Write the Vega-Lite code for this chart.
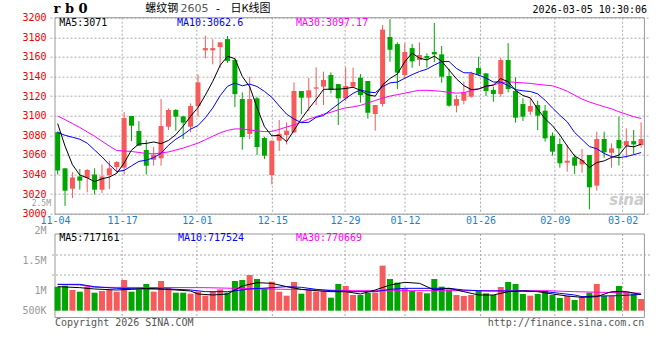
{
"$schema":"https://vega.github.io/schema/vega-lite/v6.json",
"width":600,"height":300,"autosize":"none",
"padding":{"left":50,"top":17.7,"right":10,"bottom":42.3},
"background":"#ffffff",
"config":{"view":{"stroke":null},"axisY":{"labelOverlap":false,"labelSeparation":-20}},
"datasets":{
"one":[{}],
"ticks":[{"i":8.73},{"i":18.85},{"i":29.07},{"i":38.92},{"i":47.04},{"i":57.26},{"i":67.32},{"i":76.5}],
"k":[
{"i":0,"o":3083,"h":3084,"l":3040,"c":3044,"v":1060000,"m5":3092,"m10":3083,"m30":3099.7},
{"i":1,"o":3046.3,"h":3046.5,"l":3008,"c":3023.5,"v":1104000,"m5":3069,"m10":3080,"m30":3096},
{"i":2,"o":3025.5,"h":3042.5,"l":3016,"c":3037,"v":913000,"m5":3050,"m10":3078,"m30":3092},
{"i":3,"o":3038,"h":3045.6,"l":3024.5,"c":3033.7,"v":839000,"m5":3039.5,"m10":3076,"m30":3088},
{"i":4,"o":3036.4,"h":3045.6,"l":3021.8,"c":3044.6,"v":1060000,"m5":3036.6,"m10":3072,"m30":3083.5},
{"i":5,"o":3040,"h":3046.3,"l":3019.7,"c":3024.5,"v":795000,"m5":3032.7,"m10":3065,"m30":3079},
{"i":6,"o":3024.5,"h":3050.3,"l":3021,"c":3038,"v":869000,"m5":3035.6,"m10":3058,"m30":3074},
{"i":7,"o":3039.4,"h":3054,"l":3025.2,"c":3046.3,"v":913000,"m5":3037.4,"m10":3050,"m30":3069},
{"i":8,"o":3047.6,"h":3053.7,"l":3042,"c":3052.7,"v":839000,"m5":3041.2,"m10":3043,"m30":3064.5},
{"i":9,"o":3047,"h":3103.7,"l":3040,"c":3097.6,"v":1354000,"m5":3051.8,"m10":3044.2,"m30":3064},
{"i":10,"o":3099.7,"h":3099.7,"l":3074,"c":3089.8,"v":839000,"m5":3064.9,"m10":3048.8,"m30":3063.5},
{"i":11,"o":3084.4,"h":3094.5,"l":3069,"c":3069.4,"v":942000,"m5":3071.2,"m10":3053.4,"m30":3062.5},
{"i":12,"o":3065,"h":3075,"l":3040,"c":3049,"v":1177000,"m5":3071.7,"m10":3054.6,"m30":3061.5},
{"i":13,"o":3055,"h":3068,"l":3049,"c":3060,"v":839000,"m5":3073.2,"m10":3057.2,"m30":3061},
{"i":14,"o":3056.5,"h":3117,"l":3049,"c":3089.5,"v":1310000,"m5":3071.5,"m10":3061.7,"m30":3062},
{"i":15,"o":3088.8,"h":3107.5,"l":3085.4,"c":3105.8,"v":1030000,"m5":3074.7,"m10":3069.8,"m30":3063},
{"i":16,"o":3105.8,"h":3106.8,"l":3084.7,"c":3099,"v":795000,"m5":3080.7,"m10":3076,"m30":3065},
{"i":17,"o":3099.3,"h":3100,"l":3076.2,"c":3092.9,"v":795000,"m5":3089.4,"m10":3080.6,"m30":3067},
{"i":18,"o":3088.8,"h":3112.6,"l":3083,"c":3109.9,"v":751000,"m5":3099.4,"m10":3086.3,"m30":3069.5},
{"i":19,"o":3109.9,"h":3142,"l":3099,"c":3134,"v":839000,"m5":3108.3,"m10":3089.9,"m30":3072},
{"i":20,"o":3166.7,"h":3181.6,"l":3158.5,"c":3169,"v":663000,"m5":3121,"m10":3097.9,"m30":3075.5},
{"i":21,"o":3166.7,"h":3178,"l":3152.4,"c":3169,"v":839000,"m5":3135,"m10":3107.9,"m30":3079},
{"i":22,"o":3170,"h":3175,"l":3149,"c":3174.8,"v":942000,"m5":3151.3,"m10":3120.4,"m30":3082.5},
{"i":23,"o":3178.2,"h":3181.3,"l":3154,"c":3156,"v":795000,"m5":3160.6,"m10":3130,"m30":3085},
{"i":24,"o":3156.8,"h":3158.5,"l":3108.8,"c":3122,"v":1310000,"m5":3158.2,"m10":3133.3,"m30":3086.5},
{"i":25,"o":3117,"h":3123.8,"l":3065.3,"c":3078.2,"v":1354000,"m5":3140,"m10":3130.5,"m30":3086.5},
{"i":26,"o":3081.3,"h":3139.8,"l":3076.2,"c":3117,"v":1574000,"m5":3129.6,"m10":3132.3,"m30":3085.5},
{"i":27,"o":3117.7,"h":3119.4,"l":3059.9,"c":3068,"v":1398000,"m5":3108.2,"m10":3129.8,"m30":3084.5},
{"i":28,"o":3077.2,"h":3078.6,"l":3055.8,"c":3059.2,"v":986000,"m5":3088.9,"m10":3124.8,"m30":3083.8},
{"i":29,"o":3039.5,"h":3074.5,"l":3029.9,"c":3074.5,"v":1280000,"m5":3079.4,"m10":3118.8,"m30":3084},
{"i":30,"o":3074.5,"h":3095.6,"l":3064,"c":3081.3,"v":839000,"m5":3080,"m10":3110,"m30":3086},
{"i":31,"o":3080.3,"h":3093.2,"l":3070.7,"c":3084.7,"v":663000,"m5":3073.5,"m10":3101.6,"m30":3088.5},
{"i":32,"o":3083,"h":3134,"l":3082,"c":3125.2,"v":1266000,"m5":3085,"m10":3096.6,"m30":3090.5},
{"i":33,"o":3125.2,"h":3125.2,"l":3101.4,"c":3118.4,"v":751000,"m5":3096.8,"m10":3092.9,"m30":3093.5},
{"i":34,"o":3118.4,"h":3138.4,"l":3104.8,"c":3125.9,"v":913000,"m5":3107.1,"m10":3093.3,"m30":3096.5},
{"i":35,"o":3127.6,"h":3149.3,"l":3110.9,"c":3128.9,"v":839000,"m5":3116.6,"m10":3098.3,"m30":3099},
{"i":36,"o":3129.6,"h":3144.9,"l":3110.9,"c":3136.4,"v":869000,"m5":3126.9,"m10":3100.2,"m30":3101.5},
{"i":37,"o":3141.5,"h":3144.2,"l":3122.8,"c":3126.2,"v":575000,"m5":3127.1,"m10":3106.1,"m30":3103.5},
{"i":38,"o":3132.3,"h":3132.3,"l":3090.5,"c":3117.7,"v":1177000,"m5":3127,"m10":3111.9,"m30":3106},
{"i":39,"o":3117.7,"h":3149.3,"l":3115,"c":3130.3,"v":1089000,"m5":3127.8,"m10":3117.5,"m30":3108},
{"i":40,"o":3129.6,"h":3149,"l":3128.6,"c":3134.4,"v":692000,"m5":3129,"m10":3122.8,"m30":3109},
{"i":41,"o":3138.8,"h":3142.5,"l":3113.3,"c":3121,"v":692000,"m5":3125.9,"m10":3126.4,"m30":3110.5},
{"i":42,"o":3135.4,"h":3135.4,"l":3097,"c":3103,"v":795000,"m5":3121.3,"m10":3124.2,"m30":3113},
{"i":43,"o":3101.7,"h":3110.9,"l":3084.7,"c":3110.9,"v":795000,"m5":3119.9,"m10":3123.5,"m30":3115.5},
{"i":44,"o":3111.9,"h":3192.5,"l":3109.2,"c":3187.8,"v":1986000,"m5":3131.4,"m10":3129.6,"m30":3118},
{"i":45,"o":3180.3,"h":3198.6,"l":3155.1,"c":3167.3,"v":1398000,"m5":3138,"m10":3133.5,"m30":3120},
{"i":46,"o":3173.1,"h":3174.8,"l":3127.2,"c":3143.9,"v":1236000,"m5":3142.6,"m10":3134.3,"m30":3121.5},
{"i":47,"o":3141.5,"h":3173.8,"l":3138.1,"c":3165,"v":986000,"m5":3155,"m10":3138.2,"m30":3123},
{"i":48,"o":3169,"h":3173.1,"l":3149,"c":3155.4,"v":869000,"m5":3163.9,"m10":3141.9,"m30":3124.5},
{"i":49,"o":3156.8,"h":3174.8,"l":3150.7,"c":3161.9,"v":825000,"m5":3158.7,"m10":3145.1,"m30":3125.9},
{"i":50,"o":3160.9,"h":3163.6,"l":3149,"c":3158.5,"v":766000,"m5":3156.9,"m10":3147.5,"m30":3125.9},
{"i":51,"o":3165,"h":3194.6,"l":3154.8,"c":3162.6,"v":1398000,"m5":3160.7,"m10":3151.7,"m30":3125.5},
{"i":52,"o":3162.6,"h":3171,"l":3133.7,"c":3139.8,"v":1060000,"m5":3155.6,"m10":3155.3,"m30":3124.8},
{"i":53,"o":3140.5,"h":3148,"l":3109.2,"c":3110.2,"v":942000,"m5":3146.6,"m10":3155.3,"m30":3123.8},
{"i":54,"o":3110.2,"h":3121,"l":3103.4,"c":3117,"v":692000,"m5":3137.6,"m10":3148.2,"m30":3123},
{"i":55,"o":3115.3,"h":3134.7,"l":3111.6,"c":3123.8,"v":648000,"m5":3130.7,"m10":3143.8,"m30":3123.5},
{"i":56,"o":3119.4,"h":3144.9,"l":3118.4,"c":3142.9,"v":692000,"m5":3126.7,"m10":3143.7,"m30":3125.5},
{"i":57,"o":3148.6,"h":3160.2,"l":3140.5,"c":3142.2,"v":869000,"m5":3127.2,"m10":3141.4,"m30":3127.5},
{"i":58,"o":3143.2,"h":3143.5,"l":3120.1,"c":3125.2,"v":766000,"m5":3130.2,"m10":3138.4,"m30":3129.5},
{"i":59,"o":3126.2,"h":3129.6,"l":3114.3,"c":3122.1,"v":692000,"m5":3131.2,"m10":3134.4,"m30":3131.5},
{"i":60,"o":3122.1,"h":3159.2,"l":3119.4,"c":3156.8,"v":1045000,"m5":3137.8,"m10":3134.3,"m30":3133.5},
{"i":61,"o":3156.8,"h":3174.1,"l":3123.8,"c":3127.2,"v":1266000,"m5":3134.7,"m10":3130.7,"m30":3134.7},
{"i":62,"o":3125.2,"h":3139.1,"l":3092.9,"c":3098,"v":1177000,"m5":3125.9,"m10":3126.6,"m30":3134},
{"i":63,"o":3111.9,"h":3117.7,"l":3094.6,"c":3099,"v":736000,"m5":3120.6,"m10":3125.4,"m30":3133.5},
{"i":64,"o":3104.1,"h":3117.7,"l":3100.7,"c":3109.9,"v":663000,"m5":3118.2,"m10":3124.7,"m30":3133},
{"i":65,"o":3110.9,"h":3115.3,"l":3085.4,"c":3100,"v":736000,"m5":3106.8,"m10":3122.3,"m30":3132},
{"i":66,"o":3105.1,"h":3110.9,"l":3073.5,"c":3076.9,"v":869000,"m5":3096.8,"m10":3115.8,"m30":3131.2},
{"i":67,"o":3079.6,"h":3083,"l":3059.2,"c":3063.3,"v":692000,"m5":3089.8,"m10":3107.9,"m30":3130.5},
{"i":68,"o":3071.1,"h":3076.9,"l":3046.9,"c":3051.4,"v":560000,"m5":3080.3,"m10":3100.5,"m30":3128},
{"i":69,"o":3052,"h":3069.7,"l":3042.9,"c":3054.1,"v":648000,"m5":3069.1,"m10":3093.7,"m30":3125},
{"i":70,"o":3057.5,"h":3060.5,"l":3040.5,"c":3049,"v":472000,"m5":3058.9,"m10":3082.9,"m30":3121},
{"i":71,"o":3050.3,"h":3066,"l":3041.8,"c":3054.8,"v":589000,"m5":3054.5,"m10":3075.7,"m30":3117},
{"i":72,"o":3059.9,"h":3060,"l":3004.4,"c":3026.9,"v":795000,"m5":3047.2,"m10":3068.5,"m30":3114},
{"i":73,"o":3028.6,"h":3083.7,"l":3023.5,"c":3076.2,"v":1177000,"m5":3052.2,"m10":3066.3,"m30":3111.5},
{"i":74,"o":3076.2,"h":3083.7,"l":3057.1,"c":3062.6,"v":648000,"m5":3053.9,"m10":3061.5,"m30":3109.2},
{"i":75,"o":3062.2,"h":3071.8,"l":3046.9,"c":3066.7,"v":648000,"m5":3057.4,"m10":3058.2,"m30":3107},
{"i":76,"o":3075.2,"h":3099,"l":3049,"c":3066.7,"v":1089000,"m5":3059.8,"m10":3057.2,"m30":3104},
{"i":77,"o":3069.4,"h":3087.1,"l":3057.1,"c":3074.1,"v":839000,"m5":3069.3,"m10":3058.3,"m30":3101.5},
{"i":78,"o":3074.1,"h":3085.4,"l":3060.5,"c":3070.7,"v":736000,"m5":3068.2,"m10":3060.2,"m30":3099},
{"i":79,"o":3070,"h":3093.2,"l":3067.3,"c":3076.2,"v":516000,"m5":3070.9,"m10":3062.4,"m30":3097.17}
],
"vma":[
{"s":"MA30","i":0,"v":1162700},{"s":"MA30","i":3,"v":1133700},{"s":"MA30","i":5,"v":1030500},{"s":"MA30","i":20,"v":1015800},{"s":"MA30","i":26,"v":971700},{"s":"MA30","i":36,"v":912900},{"s":"MA30","i":40,"v":883500},{"s":"MA30","i":66,"v":883500},{"s":"MA30","i":70,"v":839400},{"s":"MA30","i":79,"v":770669},
{"s":"MA10","i":0,"v":1162700},{"s":"MA10","i":3,"v":1162700},{"s":"MA10","i":5,"v":1059900},{"s":"MA10","i":8,"v":986400},{"s":"MA10","i":12,"v":957000},{"s":"MA10","i":15,"v":957000},{"s":"MA10","i":18,"v":912900},{"s":"MA10","i":20,"v":839400},{"s":"MA10","i":23,"v":839400},{"s":"MA10","i":26,"v":957000},{"s":"MA10","i":29,"v":1015800},{"s":"MA10","i":31,"v":1059900},{"s":"MA10","i":33,"v":1030500},{"s":"MA10","i":35,"v":942300},{"s":"MA10","i":37,"v":883500},{"s":"MA10","i":40,"v":839400},{"s":"MA10","i":43,"v":839400},{"s":"MA10","i":45,"v":942300},{"s":"MA10","i":47,"v":986400},{"s":"MA10","i":53,"v":986400},{"s":"MA10","i":55,"v":912900},{"s":"MA10","i":58,"v":868800},{"s":"MA10","i":63,"v":868800},{"s":"MA10","i":66,"v":839400},{"s":"MA10","i":68,"v":765900},{"s":"MA10","i":70,"v":692400},{"s":"MA10","i":71,"v":618900},{"s":"MA10","i":73,"v":648300},{"s":"MA10","i":76,"v":663000},{"s":"MA10","i":79,"v":717524},
{"s":"MA5","i":0,"v":1059900},{"s":"MA5","i":3,"v":1015800},{"s":"MA5","i":5,"v":957000},{"s":"MA5","i":8,"v":912900},{"s":"MA5","i":10,"v":942300},{"s":"MA5","i":12,"v":986400},{"s":"MA5","i":14,"v":957000},{"s":"MA5","i":16,"v":912900},{"s":"MA5","i":18,"v":868800},{"s":"MA5","i":19,"v":736500},{"s":"MA5","i":21,"v":692400},{"s":"MA5","i":23,"v":736500},{"s":"MA5","i":25,"v":1089300},{"s":"MA5","i":27,"v":1236300},{"s":"MA5","i":29,"v":1206900},{"s":"MA5","i":31,"v":1059900},{"s":"MA5","i":33,"v":942300},{"s":"MA5","i":35,"v":883500},{"s":"MA5","i":37,"v":839400},{"s":"MA5","i":39,"v":839400},{"s":"MA5","i":41,"v":736500},{"s":"MA5","i":43,"v":912900},{"s":"MA5","i":45,"v":1133700},{"s":"MA5","i":47,"v":1251000},{"s":"MA5","i":49,"v":1206900},{"s":"MA5","i":51,"v":912900},{"s":"MA5","i":53,"v":986400},{"s":"MA5","i":55,"v":839400},{"s":"MA5","i":57,"v":692400},{"s":"MA5","i":59,"v":692400},{"s":"MA5","i":61,"v":839400},{"s":"MA5","i":63,"v":868800},{"s":"MA5","i":65,"v":839400},{"s":"MA5","i":67,"v":736500},{"s":"MA5","i":69,"v":648300},{"s":"MA5","i":71,"v":589500},{"s":"MA5","i":73,"v":618900},{"s":"MA5","i":75,"v":839400},{"s":"MA5","i":77,"v":839400},{"s":"MA5","i":79,"v":717161}
]
},
"layer":[
{
"layer":[
{"data":{"name":"ticks"},"mark":{"type":"rule","color":"#aaaaaa","strokeDash":[2,2],"strokeWidth":1},
 "encoding":{
  "x":{"field":"i","type":"quantitative","scale":{"domain":[-0.36,79.53],"nice":false,"zero":false},
   "axis":{"orient":"bottom","offset":-104,"values":[-0.36,8.73,18.85,29.07,38.92,47.04,57.26,67.32,76.5],
    "labelExpr":"datum.value < 0 ? '11-04' : datum.value < 10 ? '11-17' : datum.value < 20 ? '12-01' : datum.value < 30 ? '12-15' : datum.value < 40 ? '12-29' : datum.value < 50 ? '01-12' : datum.value < 60 ? '01-26' : datum.value < 70 ? '02-09' : '03-02'",
    "labelFlush":false,"labelBound":false,"labelOverlap":false,"domain":false,"ticks":false,"tickSize":0,"grid":false,
    "labelBaseline":"middle","labelPadding":6.7,"labelColor":"#1a7fc8","labelFont":"DejaVu Sans Mono","labelFontSize":10,"title":null}},
  "y":{"datum":3200,"type":"quantitative","scale":{"domain":[2893.88,3200],"nice":false,"zero":false},
   "axis":{"orient":"left","values":[3000,3020,3040,3060,3080,3100,3120,3140,3160,3180,3200],"tickCount":11,"format":"d","labelOverlap":false,"labelBound":false,"labelFlush":false,
    "labelColor":"#ee0000","labelFont":"DejaVu Sans Mono","labelFontSize":10,"labelPadding":4,"domain":false,"ticks":false,"tickSize":0,
    "grid":true,"gridColor":"#aaaaaa","gridDash":[2,2],"labelBaseline":"middle","title":null}},
  "y2":{"datum":3000}}},
{"data":{"name":"one"},"mark":{"type":"rect","fill":"transparent","stroke":"#999999","strokeWidth":1},
 "encoding":{"x":{"datum":-0.36,"type":"quantitative","scale":{"domain":[-0.36,79.53],"nice":false,"zero":false}},"x2":{"datum":79.45},
  "y":{"datum":3200,"type":"quantitative","scale":{"domain":[2893.88,3200],"nice":false,"zero":false}},"y2":{"datum":2999.5}}},
{"data":{"name":"k"},"mark":{"type":"rule","strokeWidth":1},
 "encoding":{"x":{"field":"i","type":"quantitative","scale":{"domain":[-0.36,79.53],"nice":false,"zero":false}},
  "y":{"field":"l","type":"quantitative","scale":{"domain":[2893.88,3200],"nice":false,"zero":false},
   "axis":{"orient":"left","values":[3000,3020,3040,3060,3080,3100,3120,3140,3160,3180,3200],"tickCount":11,"format":"d","labelOverlap":false,"labelBound":false,"labelFlush":false,
    "labelColor":"#ee0000","labelFont":"DejaVu Sans Mono","labelFontSize":10,"labelPadding":4,"domain":false,"ticks":false,"tickSize":0,
    "grid":true,"gridColor":"#aaaaaa","gridDash":[2,2],"labelBaseline":"middle","title":null}},"y2":{"field":"h"},
  "color":{"condition":{"test":"datum.c >= datum.o","value":"#f65a5a"},"value":"#00a600"}}},
{"data":{"name":"k"},"mark":{"type":"bar","size":5},
 "encoding":{"x":{"field":"i","type":"quantitative","scale":{"domain":[-0.36,79.53],"nice":false,"zero":false}},
  "y":{"field":"o","type":"quantitative","scale":{"domain":[2893.88,3200],"nice":false,"zero":false}},"y2":{"field":"c"},
  "color":{"condition":{"test":"datum.c >= datum.o","value":"#f65a5a"},"value":"#00a600"}}},
{"data":{"name":"k"},"mark":{"type":"line","color":"#ff00ff","strokeWidth":1},
 "encoding":{"x":{"field":"i","type":"quantitative","scale":{"domain":[-0.36,79.53],"nice":false,"zero":false}},
  "y":{"field":"m30","type":"quantitative","scale":{"domain":[2893.88,3200],"nice":false,"zero":false}}}},
{"data":{"name":"k"},"mark":{"type":"line","color":"#0000ff","strokeWidth":1},
 "encoding":{"x":{"field":"i","type":"quantitative","scale":{"domain":[-0.36,79.53],"nice":false,"zero":false}},
  "y":{"field":"m10","type":"quantitative","scale":{"domain":[2893.88,3200],"nice":false,"zero":false}}}},
{"data":{"name":"k"},"mark":{"type":"line","color":"#000000","strokeWidth":1},
 "encoding":{"x":{"field":"i","type":"quantitative","scale":{"domain":[-0.36,79.53],"nice":false,"zero":false}},
  "y":{"field":"m5","type":"quantitative","scale":{"domain":[2893.88,3200],"nice":false,"zero":false}}}},
{"data":{"name":"one"},"mark":{"type":"text","text":"MA5:3071","align":"left","baseline":"middle","font":"DejaVu Sans Mono","fontSize":10,"color":"#000000"},
 "encoding":{"x":{"datum":0.21,"type":"quantitative","scale":{"domain":[-0.36,79.53],"nice":false,"zero":false}},"y":{"datum":3194.6,"type":"quantitative","scale":{"domain":[2893.88,3200],"nice":false,"zero":false}}}},
{"data":{"name":"one"},"mark":{"type":"text","text":"MA10:3062.6","align":"left","baseline":"middle","font":"DejaVu Sans Mono","fontSize":10,"color":"#0000ff"},
 "encoding":{"x":{"datum":16.15,"type":"quantitative","scale":{"domain":[-0.36,79.53],"nice":false,"zero":false}},"y":{"datum":3194.6,"type":"quantitative","scale":{"domain":[2893.88,3200],"nice":false,"zero":false}}}},
{"data":{"name":"one"},"mark":{"type":"text","text":"MA30:3097.17","align":"left","baseline":"middle","font":"DejaVu Sans Mono","fontSize":10,"color":"#ff00ff"},
 "encoding":{"x":{"datum":32.26,"type":"quantitative","scale":{"domain":[-0.36,79.53],"nice":false,"zero":false}},"y":{"datum":3194.6,"type":"quantitative","scale":{"domain":[2893.88,3200],"nice":false,"zero":false}}}},
{"data":{"name":"one"},"mark":{"type":"text","text":"r b 0","align":"left","baseline":"middle","font":"DejaVu Serif","fontWeight":"bold","fontSize":13,"color":"#000000"},
 "encoding":{"x":{"datum":-0.55,"type":"quantitative","scale":{"domain":[-0.36,79.53],"nice":false,"zero":false}},"y":{"datum":3208.5,"type":"quantitative","scale":{"domain":[2893.88,3200],"nice":false,"zero":false}}}},
{"data":{"name":"one"},"mark":{"type":"text","text":"螺纹钢","align":"left","baseline":"middle","font":"Noto Sans CJK SC","fontSize":11,"color":"#000000"},
 "encoding":{"x":{"datum":11.85,"type":"quantitative","scale":{"domain":[-0.36,79.53],"nice":false,"zero":false}},"y":{"datum":3208.5,"type":"quantitative","scale":{"domain":[2893.88,3200],"nice":false,"zero":false}}}},
{"data":{"name":"one"},"mark":{"type":"text","text":"2605","align":"left","baseline":"middle","font":"DejaVu Sans","fontSize":11,"color":"#555555"},
 "encoding":{"x":{"datum":16.65,"type":"quantitative","scale":{"domain":[-0.36,79.53],"nice":false,"zero":false}},"y":{"datum":3208.5,"type":"quantitative","scale":{"domain":[2893.88,3200],"nice":false,"zero":false}}}},
{"data":{"name":"one"},"mark":{"type":"text","text":"-","align":"left","baseline":"middle","font":"DejaVu Sans","fontSize":11,"color":"#000000"},
 "encoding":{"x":{"datum":21.43,"type":"quantitative","scale":{"domain":[-0.36,79.53],"nice":false,"zero":false}},"y":{"datum":3208.5,"type":"quantitative","scale":{"domain":[2893.88,3200],"nice":false,"zero":false}}}},
{"data":{"name":"one"},"mark":{"type":"text","text":"日K线图","align":"left","baseline":"middle","font":"Noto Sans CJK SC","fontSize":11,"color":"#000000"},
 "encoding":{"x":{"datum":23.4,"type":"quantitative","scale":{"domain":[-0.36,79.53],"nice":false,"zero":false}},"y":{"datum":3208.5,"type":"quantitative","scale":{"domain":[2893.88,3200],"nice":false,"zero":false}}}},
{"data":{"name":"one"},"mark":{"type":"text","text":"2026-03-05 10:30:06","align":"right","baseline":"middle","font":"DejaVu Sans Mono","fontSize":10,"color":"#000000"},
 "encoding":{"x":{"datum":79.8,"type":"quantitative","scale":{"domain":[-0.36,79.53],"nice":false,"zero":false}},"y":{"datum":3207.5,"type":"quantitative","scale":{"domain":[2893.88,3200],"nice":false,"zero":false}}}},
{"data":{"name":"one"},"mark":{"type":"text","text":"sina","align":"right","baseline":"alphabetic","font":"DejaVu Sans","fontStyle":"italic","fontWeight":"bold","fontSize":15,"color":"#cccccc"},
 "encoding":{"x":{"datum":79.4,"type":"quantitative","scale":{"domain":[-0.36,79.53],"nice":false,"zero":false}},"y":{"datum":3009,"type":"quantitative","scale":{"domain":[2893.88,3200],"nice":false,"zero":false}}}}
]
},
{
"layer":[
{"data":{"name":"ticks"},"mark":{"type":"rule","color":"#aaaaaa","strokeDash":[2,2],"strokeWidth":1},
 "encoding":{"x":{"field":"i","type":"quantitative","scale":{"domain":[-0.36,79.53],"nice":false,"zero":false}},
  "y":{"datum":3382470,"type":"quantitative","scale":{"domain":[-308700,12921300],"nice":false,"zero":false},
   "axis":{"orient":"left","values":[0,882000,2205000,3528000],"labelOverlap":false,"labelBound":false,"labelFlush":false,
    "labelExpr":"datum.value < 100000 ? '500K' : datum.value < 1500000 ? '1M' : datum.value < 3000000 ? '1.5M' : '2M'",
    "labelColor":"#999999","labelFont":"DejaVu Sans Mono","labelFontSize":10,"labelPadding":4,"domain":false,"ticks":false,"tickSize":0,"grid":false,"labelBaseline":"middle","title":null}},
  "y2":{"datum":-300000}}},
{"data":{"name":"one"},"mark":{"type":"text","text":"2.5M","align":"right","baseline":"middle","font":"DejaVu Sans Mono","fontSize":8,"color":"#999999","dx":-4},
 "encoding":{"x":{"datum":-0.36,"type":"quantitative","scale":{"domain":[-0.36,79.53],"nice":false,"zero":false}},"y":{"datum":4714290,"type":"quantitative","scale":{"domain":[-308700,12921300],"nice":false,"zero":false}}}},
{"data":{"name":"one"},"mark":{"type":"rule","color":"#aaaaaa","strokeDash":[2,2],"strokeWidth":1},
 "encoding":{"y":{"datum":2456370,"type":"quantitative","scale":{"domain":[-308700,12921300],"nice":false,"zero":false}}}},
{"data":{"name":"one"},"mark":{"type":"rule","color":"#aaaaaa","strokeDash":[2,2],"strokeWidth":1},
 "encoding":{"y":{"datum":1574370,"type":"quantitative","scale":{"domain":[-308700,12921300],"nice":false,"zero":false}}}},
{"data":{"name":"one"},"mark":{"type":"rect","fill":"transparent","stroke":"#999999","strokeWidth":1},
 "encoding":{"x":{"datum":-0.36,"type":"quantitative","scale":{"domain":[-0.36,79.53],"nice":false,"zero":false}},"x2":{"datum":79.45},
  "y":{"datum":3382470,"type":"quantitative","scale":{"domain":[-308700,12921300],"nice":false,"zero":false}},"y2":{"datum":-300000}}},
{"data":{"name":"k"},"mark":{"type":"bar","size":6},
 "encoding":{"x":{"field":"i","type":"quantitative","scale":{"domain":[-0.36,79.53],"nice":false,"zero":false}},
  "y":{"field":"v","type":"quantitative","scale":{"domain":[-308700,12921300],"nice":false,"zero":false}},"y2":{"datum":0},
  "color":{"condition":{"test":"datum.c >= datum.o","value":"#f65a5a"},"value":"#00a600"}}},
{"data":{"name":"vma"},"transform":[{"filter":"datum.s == 'MA30'"}],"mark":{"type":"line","color":"#ff00ff","strokeWidth":1},
 "encoding":{"x":{"field":"i","type":"quantitative","scale":{"domain":[-0.36,79.53],"nice":false,"zero":false}},
  "y":{"field":"v","type":"quantitative","scale":{"domain":[-308700,12921300],"nice":false,"zero":false}}}},
{"data":{"name":"vma"},"transform":[{"filter":"datum.s == 'MA10'"}],"mark":{"type":"line","color":"#0000ff","strokeWidth":1},
 "encoding":{"x":{"field":"i","type":"quantitative","scale":{"domain":[-0.36,79.53],"nice":false,"zero":false}},
  "y":{"field":"v","type":"quantitative","scale":{"domain":[-308700,12921300],"nice":false,"zero":false}}}},
{"data":{"name":"vma"},"transform":[{"filter":"datum.s == 'MA5'"}],"mark":{"type":"line","color":"#000000","strokeWidth":1},
 "encoding":{"x":{"field":"i","type":"quantitative","scale":{"domain":[-0.36,79.53],"nice":false,"zero":false}},
  "y":{"field":"v","type":"quantitative","scale":{"domain":[-308700,12921300],"nice":false,"zero":false}}}},
{"data":{"name":"one"},"mark":{"type":"text","text":"MA5:717161","align":"left","baseline":"middle","font":"DejaVu Sans Mono","fontSize":10,"color":"#000000"},
 "encoding":{"x":{"datum":0.21,"type":"quantitative","scale":{"domain":[-0.36,79.53],"nice":false,"zero":false}},"y":{"datum":3192840,"type":"quantitative","scale":{"domain":[-308700,12921300],"nice":false,"zero":false}}}},
{"data":{"name":"one"},"mark":{"type":"text","text":"MA10:717524","align":"left","baseline":"middle","font":"DejaVu Sans Mono","fontSize":10,"color":"#0000ff"},
 "encoding":{"x":{"datum":16.28,"type":"quantitative","scale":{"domain":[-0.36,79.53],"nice":false,"zero":false}},"y":{"datum":3192840,"type":"quantitative","scale":{"domain":[-308700,12921300],"nice":false,"zero":false}}}},
{"data":{"name":"one"},"mark":{"type":"text","text":"MA30:770669","align":"left","baseline":"middle","font":"DejaVu Sans Mono","fontSize":10,"color":"#ff00ff"},
 "encoding":{"x":{"datum":32.26,"type":"quantitative","scale":{"domain":[-0.36,79.53],"nice":false,"zero":false}},"y":{"datum":3192840,"type":"quantitative","scale":{"domain":[-308700,12921300],"nice":false,"zero":false}}}},
{"data":{"name":"one"},"mark":{"type":"text","text":"Copyright 2026 SINA.COM","align":"left","baseline":"middle","font":"DejaVu Sans Mono","fontSize":10,"color":"#555555"},
 "encoding":{"x":{"datum":-0.36,"type":"quantitative","scale":{"domain":[-0.36,79.53],"nice":false,"zero":false}},"y":{"datum":-542430,"type":"quantitative","scale":{"domain":[-308700,12921300],"nice":false,"zero":false}}}},
{"data":{"name":"one"},"mark":{"type":"text","text":"http://finance.sina.com.cn","align":"right","baseline":"middle","font":"DejaVu Sans Mono","fontSize":10,"color":"#555555"},
 "encoding":{"x":{"datum":79.44,"type":"quantitative","scale":{"domain":[-0.36,79.53],"nice":false,"zero":false}},"y":{"datum":-542430,"type":"quantitative","scale":{"domain":[-308700,12921300],"nice":false,"zero":false}}}}
]
}
],
"resolve":{"scale":{"y":"independent"},"axis":{"y":"independent"}}
}
